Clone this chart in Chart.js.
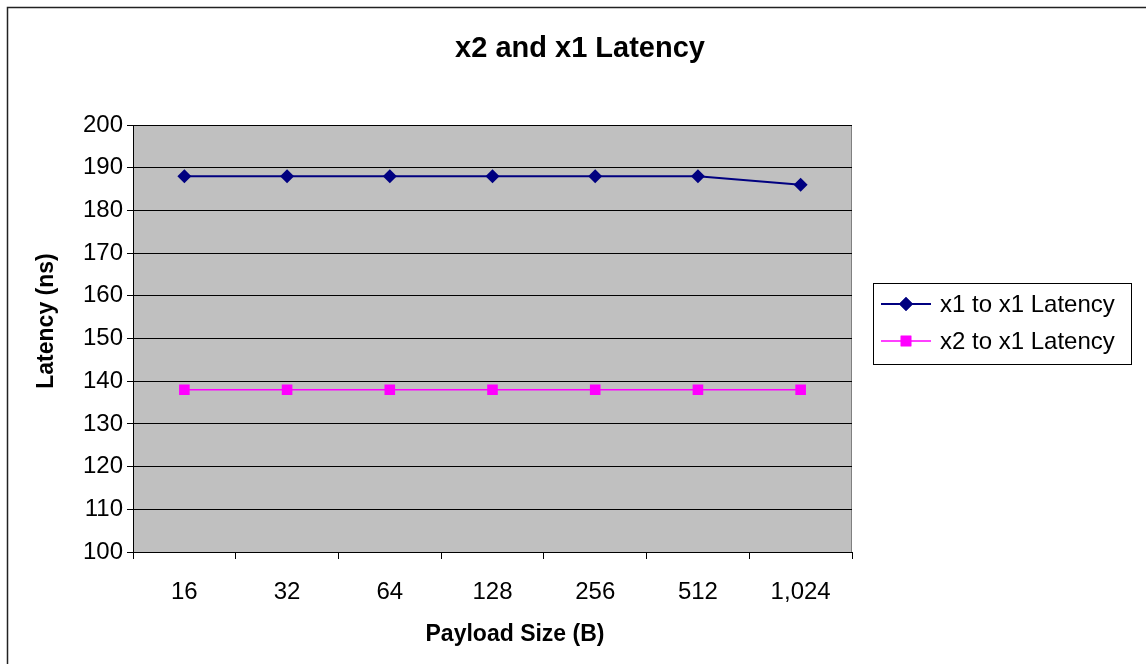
<!DOCTYPE html>
<html>
<head>
<meta charset="utf-8">
<title>x2 and x1 Latency</title>
<script src="https://cdn.jsdelivr.net/npm/chart.js@4.4.1/dist/chart.umd.min.js"></script>
<style>
    html, body { margin: 0; padding: 0; background: #fff; }
    #wrap { width: 1146px; height: 664px; position: relative; }
</style>
</head>
<body>
<div id="wrap"><canvas id="latencyChart" width="1146" height="664"></canvas></div>
<script>
// ========================================
// DATA
// ========================================
const payloadSizes = ['16', '32', '64', '128', '256', '512', '1,024'];
const x1ToX1 = [188, 188, 188, 188, 188, 188, 186];
const x2ToX1 = [138, 138, 138, 138, 138, 138, 138];
const yTicks = [100, 110, 120, 130, 140, 150, 160, 170, 180, 190, 200];

const chartTitle = 'x2 and x1 Latency';
const xTitle = 'Payload Size (B)';
const yTitle = 'Latency (ns)';

const FONT = '"Liberation Sans", Arial, sans-serif';

// ========================================
// PLUGINS
// ========================================
const plotBackground = {
    id: 'plotBackground',
    beforeDraw(chart) {
        const { ctx, chartArea: a } = chart;
        ctx.save();
        ctx.fillStyle = '#c0c0c0';
        ctx.fillRect(a.left, a.top, a.right - a.left, a.bottom - a.top);
        ctx.strokeStyle = '#808080';
        ctx.lineWidth = 1;
        ctx.beginPath();
        ctx.moveTo(Math.round(a.right) - 0.5, a.top);
        ctx.lineTo(Math.round(a.right) - 0.5, a.bottom);
        ctx.stroke();

        // outer frame (top and left only visible)
        ctx.strokeStyle = '#222';
        ctx.lineWidth = 1.5;
        ctx.beginPath();
        ctx.moveTo(7.5, 664);
        ctx.lineTo(7.5, 7.5);
        ctx.lineTo(1146, 7.5);
        ctx.stroke();
        ctx.restore();
    }
};

const excelText = {
    id: 'excelText',
    afterDraw(chart) {
        const { ctx } = chart;
        ctx.save();
        ctx.fillStyle = '#000';
        ctx.textBaseline = 'alphabetic';
        ctx.textAlign = 'center';

        ctx.font = 'bold 29px ' + FONT;
        ctx.fillText(chartTitle, 580, 57);

        ctx.font = 'bold 23px ' + FONT;
        ctx.fillText(xTitle, 515, 641);

        ctx.translate(53, 321);
        ctx.rotate(-Math.PI / 2);
        ctx.fillText(yTitle, 0, 0);
        ctx.restore();

        // legend box
        ctx.save();
        ctx.fillStyle = '#fff';
        ctx.fillRect(873, 283, 258, 81);
        ctx.strokeStyle = '#000';
        ctx.lineWidth = 1;
        ctx.strokeRect(873.5, 283.5, 258, 81);

        const rows = [304, 341];
        chart.data.datasets.forEach((ds, i) => {
            const y = rows[i];
            ctx.strokeStyle = ds.borderColor;
            ctx.lineWidth = ds.borderWidth;
            ctx.beginPath();
            ctx.moveTo(881, y);
            ctx.lineTo(931, y);
            ctx.stroke();
            ctx.fillStyle = ds.pointBackgroundColor;
            Chart.helpers.drawPoint(ctx, {
                pointStyle: ds.pointStyle,
                radius: ds.pointRadius,
                borderWidth: 0,
                rotation: 0
            }, 906, y);
            ctx.fill();

            ctx.fillStyle = '#000';
            ctx.font = '24px ' + FONT;
            ctx.textAlign = 'left';
            ctx.textBaseline = 'middle';
            ctx.fillText(ds.label, 940, y + 1);
        });
        ctx.restore();
    }
};

// ========================================
// CHART
// ========================================
const ctx = document.getElementById('latencyChart').getContext('2d');

new Chart(ctx, {
    type: 'line',
    data: {
        labels: payloadSizes,
        datasets: [
            {
                label: 'x1 to x1 Latency',
                data: x1ToX1,
                borderColor: '#000080',
                backgroundColor: '#000080',
                pointBackgroundColor: '#000080',
                pointBorderColor: '#000080',
                borderWidth: 2,
                pointStyle: 'rectRot',
                pointRadius: 7,
                pointBorderWidth: 0,
                tension: 0
            },
            {
                label: 'x2 to x1 Latency',
                data: x2ToX1,
                borderColor: '#ff00ff',
                backgroundColor: '#ff00ff',
                pointBackgroundColor: '#ff00ff',
                pointBorderColor: '#ff00ff',
                borderWidth: 1.5,
                pointStyle: 'rect',
                pointRadius: 7.5,
                pointBorderWidth: 0,
                tension: 0
            }
        ]
    },
    options: {
        responsive: false,
        animation: false,
        devicePixelRatio: 1,
        layout: { padding: { top: 125, right: 294, left: 0, bottom: 0 } },
        plugins: {
            legend: { display: false },
            title: { display: false },
            tooltip: { enabled: false }
        },
        scales: {
            x: {
                offset: true,
                afterFit: (scale) => { scale.height = 112; },
                grid: {
                    offset: true,
                    drawOnChartArea: false,
                    drawTicks: true,
                    tickLength: 7,
                    color: '#000'
                },
                border: { display: true, color: '#000', width: 1 },
                ticks: {
                    color: '#000',
                    padding: 19,
                    maxRotation: 0,
                    font: { family: FONT, size: 24 }
                }
            },
            y: {
                min: 100,
                max: 200,
                afterFit: (scale) => { scale.width = 133; },
                afterBuildTicks: (scale) => {
                    scale.ticks = yTicks.map(v => ({ value: v }));
                },
                grid: {
                    color: '#000',
                    lineWidth: 1,
                    tickLength: 6
                },
                border: { display: true, color: '#000', width: 1 },
                ticks: {
                    color: '#000',
                    padding: 4,
                    font: { family: FONT, size: 24 }
                }
            }
        }
    },
    plugins: [plotBackground, excelText]
});
</script>
</body>
</html>
